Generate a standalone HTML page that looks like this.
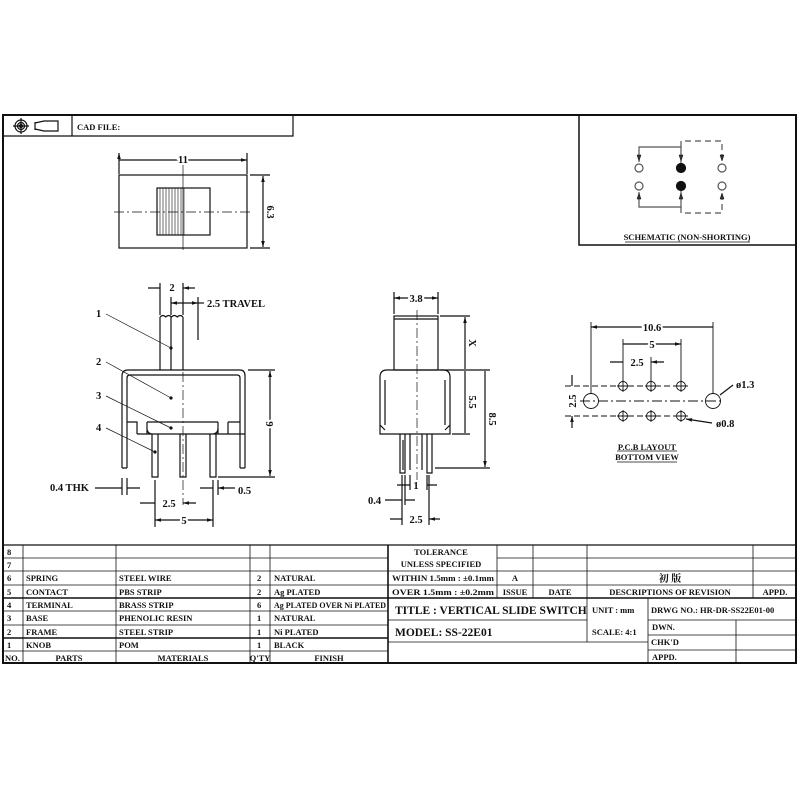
<!DOCTYPE html>
<html><head><meta charset="utf-8"><style>
html,body{margin:0;padding:0;background:#fff}
svg{display:block}
text{font-family:"Liberation Serif","Noto Serif CJK SC",serif;font-weight:bold;fill:#111}
.t{font-size:8.5px}
</style></head><body>
<svg width="800" height="800" viewBox="0 0 800 800" xmlns="http://www.w3.org/2000/svg">
<defs>
<marker id="a" viewBox="0 0 10 10" refX="10" refY="5" markerWidth="6" markerHeight="5" orient="auto-start-reverse"><path d="M0,2 L10,5 L0,8 z" fill="#111"/></marker>
</defs>
<g stroke="#111" fill="none" stroke-width="1.2">
<rect x="3" y="115" width="793" height="548" stroke-width="2"/>
<path d="M3,136 H293 V115 M72,115 V136"/>
<circle cx="21" cy="126" r="6"/><circle cx="21" cy="126" r="3.5"/><circle cx="21" cy="126" r="1.5"/>
<path d="M13,126 H29 M21,118 V134"/>
<path d="M35,122 V130 M35,123 L44,121 H58 V131 H44 L35,129"/>
<rect x="579" y="115" width="217" height="130" stroke-width="1.5"/>
<path d="M639,162 V147 H681 V163 M639,192 V207 H681 V191" stroke="#555"/>
<path d="M681,147 V141 H722 V162 M681,207 V213 H722 V192" stroke="#555" stroke-dasharray="6,4"/>
<path d="M637,155 L639,161 L641,155 Z M679,155 L681,161 L683,155 Z M720,155 L722,161 L724,155 Z M637,199 L639,193 L641,199 Z M679,199 L681,193 L683,199 Z M720,199 L722,193 L724,199 Z" fill="#333" stroke-width="0.5"/>
<circle cx="639" cy="168" r="4" stroke="#555"/><circle cx="722" cy="168" r="4" stroke="#555"/>
<circle cx="639" cy="186" r="4" stroke="#555"/><circle cx="722" cy="186" r="4" stroke="#555"/>
<circle cx="681" cy="168" r="4.5" fill="#111"/><circle cx="681" cy="186" r="4.5" fill="#111"/>
<path d="M625,242 H750" stroke-width="0.8"/>

<rect x="119" y="175" width="128" height="73"/>
<rect x="157" y="188" width="53" height="47"/>
<path d="M160,188 V235 M163,188 V235 M166,188 V235 M169,188 V235 M172,188 V235 M175,188 V235 M178,188 V235 M181,188 V235 M184,188 V235" stroke-width="0.6"/>
<path d="M183,165 V250" stroke-width="0.7"/>
<path d="M114,212 H252" stroke-width="0.7" stroke-dasharray="10,3,2,3"/>
<path d="M119,153 V174 M247,153 V174 M119,160 H247" marker-start="url(#a)" marker-end="url(#a)"/>
<path d="M250,175 H270 M250,248 H270"/>
<path d="M263,176 V247" marker-start="url(#a)" marker-end="url(#a)"/>

<path d="M160,370 V317 M183,370 V317 M171,370 V317"/>
<path d="M160,317 q3,-3 5.75,0 q2.87,-3 5.75,0 q2.87,-3 5.75,0 q2.87,-3 5.75,0" />
<path d="M122,468 V376 q0,-6 6,-6 H240 q5,0 5,6 V468 M127,468 V378 q0,-3 3,-3 H237 q3,0 3,3 V468 M122,468 H127 M240,468 H245"/>
<path d="M127,422 H137 V434 M137,434 H245 M147,422 V434 M147,422 H218 M228,422 H240 M218,422 V434 M228,422 V434 M147,428 q0,6 6,6 M218,428 q0,6 -6,6"/>
<path d="M152,434 V477 h6 V434 M180,434 V477 h6 V434 M210,434 V477 h6 V434"/>
<path d="M183,300 V505" stroke-width="0.7" stroke-dasharray="10,3,2,3"/>
<path d="M160,283 V315 M183,283 V315 M148,288 H160 M195,288 H183" marker-end="url(#a)"/>
<path d="M171,297 V315 M198,297 V340" />
<path d="M171,303 H198" marker-start="url(#a)" marker-end="url(#a)"/>
<path d="M198,303 H204"/>
<path d="M248,370 H275 M218,477 H275"/>
<path d="M270,371 V476" marker-start="url(#a)" marker-end="url(#a)"/>
<path d="M106,314 L171,348 M106,362 L171,398 M106,396 L171,428 M106,428 L155,452" stroke-width="0.7"/>
<circle cx="171" cy="348" r="1" fill="#111"/><circle cx="171" cy="398" r="1" fill="#111"/><circle cx="171" cy="428" r="1" fill="#111"/><circle cx="155" cy="452" r="1" fill="#111"/>
<path d="M122,478 V495 M127,478 V495 M155,480 V527 M213,480 V527 M218,480 V495"/>
<path d="M95,488 H122 M140,488 H127 M200,488 H213 M235,488 H218" marker-end="url(#a)"/>
<path d="M140,503 H155 M196,503 H183" marker-end="url(#a)"/>
<path d="M155,520 H213" marker-start="url(#a)" marker-end="url(#a)"/>

<rect x="394" y="316" width="44" height="54"/>
<path d="M394,319 H438"/>
<path d="M380,434 V377 q0,-7 7,-7 H443 q7,0 7,7 V434 Z M385,425 V380 M445,425 V380 M380,425 L385,430 M450,425 L445,430"/>
<path d="M400,434 V473 h5 V434 M427,434 V473 h5 V434 M410,434 V470 M422,434 V470 M403,440 V470"/>
<path d="M417,310 V480" stroke-width="0.7" stroke-dasharray="10,3,2,3"/>
<path d="M394,292 V314 M438,292 V314"/>
<path d="M394,298 H438" marker-start="url(#a)" marker-end="url(#a)"/>
<path d="M440,316 H470 M440,370 H490 M452,434 H470 M435,468 H490"/>
<path d="M465,317 V369 M465,371 V433 M485,371 V467" marker-start="url(#a)" marker-end="url(#a)"/>
<path d="M402,475 V525 M405,475 V505 M410,475 V490 M427,475 V490 M429,475 V525"/>
<path d="M397,485 H410 M437,485 H427 M385,500 H402 M415,500 H405 M390,519 H402 M440,519 H429" marker-end="url(#a)"/>

<g stroke-width="0.9">
<circle cx="623" cy="386" r="4.5"/><circle cx="651" cy="386" r="4.5"/><circle cx="681" cy="386" r="4.5"/>
<circle cx="623" cy="416" r="4.5"/><circle cx="651" cy="416" r="4.5"/><circle cx="681" cy="416" r="4.5"/>
<circle cx="591" cy="401" r="7.5"/><circle cx="713" cy="401" r="7.5"/>
<path d="M617,386 h12 M623,380 v12 M645,386 h12 M651,380 v12 M675,386 h12 M681,380 v12 M617,416 h12 M623,410 v12 M645,416 h12 M651,410 v12 M675,416 h12 M681,410 v12"/>
<path d="M565,386 H690 M565,416 H690" stroke-dasharray="6,3"/>
<path d="M580,401 H724" stroke-dasharray="10,3,2,3"/>
<path d="M591,322 V394 M713,322 V394 M623,339 V381 M681,339 V381 M651,357 V381"/>
</g>
<path d="M591,327 H713 M623,344 H681" marker-start="url(#a)" marker-end="url(#a)"/>
<path d="M610,362 H623 M664,362 H651" marker-end="url(#a)"/>
<path d="M572,375 V386 M572,428 V416" marker-end="url(#a)"/>
<path d="M733,385 L720,395 M712,423 L686,419" marker-end="url(#a)"/>
<path d="M617,451 H677 M617,462 H677" stroke-width="0.8"/>

<path d="M3,545 H796"/>
<path d="M3,558 H388 M3,571 H388 M3,585 H388 M3,611 H388 M3,625 H388 M3,651 H388" stroke-width="0.8"/>
<path d="M3,598 H388 M3,638 H388" stroke-width="1.6"/>
<path d="M23,545 V663 M116,545 V663 M250,545 V663 M270,545 V663 M388,545 V663" stroke-width="0.8"/>
<path d="M388,545 V663" stroke-width="1.6"/>
<path d="M497,558 H796 M388,571 H796 M388,585 H796" stroke-width="0.8"/>
<path d="M388,598 H796" stroke-width="1.6"/>
<path d="M497,545 V598 M533,545 V598 M587,545 V642 M753,545 V598" stroke-width="0.8"/>
<path d="M388,620 H587 M388,642 H648 M648,598 V663 M736,620 V663 M648,620 H796 M648,635 H796 M648,650 H796" stroke-width="0.8"/>
</g>

<text x="77" y="130" class="t">CAD FILE:</text>
<text x="687" y="240" class="t" text-anchor="middle">SCHEMATIC (NON-SHORTING)</text>
<text x="183" y="163" font-size="10.5" text-anchor="middle" stroke="#fff" stroke-width="4" style="paint-order:stroke">11</text>
<text transform="translate(267,212) rotate(90)" font-size="10.5" text-anchor="middle" stroke="#fff" stroke-width="4" style="paint-order:stroke">6.3</text>
<text x="172" y="291" font-size="10.5" text-anchor="middle">2</text>
<text x="207" y="307" font-size="10.5">2.5  TRAVEL</text>
<text x="96" y="317" font-size="10.5">1</text>
<text x="96" y="365" font-size="10.5">2</text>
<text x="96" y="399" font-size="10.5">3</text>
<text x="96" y="431" font-size="10.5">4</text>
<text transform="translate(266,424) rotate(90)" font-size="10.5" text-anchor="middle" stroke="#fff" stroke-width="4" style="paint-order:stroke">9</text>
<text x="50" y="491" font-size="10.5">0.4 THK</text>
<text x="238" y="494" font-size="10.5">0.5</text>
<text x="169" y="507" font-size="10.5" text-anchor="middle">2.5</text>
<text x="184" y="524" font-size="10.5" text-anchor="middle" stroke="#fff" stroke-width="4" style="paint-order:stroke">5</text>
<text x="416" y="302" font-size="10.5" text-anchor="middle" stroke="#fff" stroke-width="4" style="paint-order:stroke">3.8</text>
<text transform="translate(469,343) rotate(90)" font-size="10.5" text-anchor="middle" stroke="#fff" stroke-width="4" style="paint-order:stroke">X</text>
<text transform="translate(469,402) rotate(90)" font-size="10.5" text-anchor="middle" stroke="#fff" stroke-width="4" style="paint-order:stroke">5.5</text>
<text transform="translate(489,419) rotate(90)" font-size="10.5" text-anchor="middle" stroke="#fff" stroke-width="4" style="paint-order:stroke">8.5</text>
<text x="416" y="489" font-size="10.5" text-anchor="middle">1</text>
<text x="368" y="504" font-size="10.5">0.4</text>
<text x="416" y="523" font-size="10.5" text-anchor="middle">2.5</text>
<text x="652" y="331" font-size="10.5" text-anchor="middle" stroke="#fff" stroke-width="4" style="paint-order:stroke">10.6</text>
<text x="652" y="348" font-size="10.5" text-anchor="middle" stroke="#fff" stroke-width="4" style="paint-order:stroke">5</text>
<text x="637" y="366" font-size="10.5" text-anchor="middle">2.5</text>
<text transform="translate(576,401) rotate(-90)" font-size="10.5" text-anchor="middle" stroke="#fff" stroke-width="4" style="paint-order:stroke">2.5</text>
<text x="736" y="388" font-size="10.5">ø1.3</text>
<text x="716" y="427" font-size="10.5">ø0.8</text>
<text x="647" y="450" class="t" text-anchor="middle">P.C.B LAYOUT</text>
<text x="647" y="460" class="t" text-anchor="middle">BOTTOM VIEW</text>

<text x="7" y="555" class="t">8</text><text x="7" y="568" class="t">7</text>
<text x="7" y="581" class="t">6</text><text x="26" y="581" class="t">SPRING</text><text x="119" y="581" class="t">STEEL WIRE</text><text x="257" y="581" class="t">2</text><text x="274" y="581" class="t">NATURAL</text>
<text x="7" y="595" class="t">5</text><text x="26" y="595" class="t">CONTACT</text><text x="119" y="595" class="t">PBS STRIP</text><text x="257" y="595" class="t">2</text><text x="274" y="595" class="t">Ag PLATED</text>
<text x="7" y="608" class="t">4</text><text x="26" y="608" class="t">TERMINAL</text><text x="119" y="608" class="t">BRASS STRIP</text><text x="257" y="608" class="t">6</text><text x="274" y="608" class="t" textLength="112" lengthAdjust="spacingAndGlyphs">Ag PLATED OVER Ni PLATED</text>
<text x="7" y="621" class="t">3</text><text x="26" y="621" class="t">BASE</text><text x="119" y="621" class="t">PHENOLIC RESIN</text><text x="257" y="621" class="t">1</text><text x="274" y="621" class="t">NATURAL</text>
<text x="7" y="635" class="t">2</text><text x="26" y="635" class="t">FRAME</text><text x="119" y="635" class="t">STEEL STRIP</text><text x="257" y="635" class="t">1</text><text x="274" y="635" class="t">Ni PLATED</text>
<text x="7" y="648" class="t">1</text><text x="26" y="648" class="t">KNOB</text><text x="119" y="648" class="t">POM</text><text x="257" y="648" class="t">1</text><text x="274" y="648" class="t">BLACK</text>
<text x="5" y="661" class="t">NO.</text><text x="69" y="661" class="t" text-anchor="middle">PARTS</text><text x="183" y="661" class="t" text-anchor="middle">MATERIALS</text><text x="260" y="661" class="t" text-anchor="middle">Q'TY</text><text x="329" y="661" class="t" text-anchor="middle">FINISH</text>
<text x="441" y="555" class="t" text-anchor="middle">TOLERANCE</text>
<text x="441" y="567" class="t" text-anchor="middle">UNLESS  SPECIFIED</text>
<text x="392" y="581" class="t" textLength="102" lengthAdjust="spacingAndGlyphs">WITHIN 1.5mm : ±0.1mm</text>
<text x="392" y="595" class="t" textLength="102" lengthAdjust="spacingAndGlyphs">OVER 1.5mm : ±0.2mm</text>
<text x="515" y="581" class="t" text-anchor="middle">A</text>
<text x="515" y="595" class="t" text-anchor="middle">ISSUE</text>
<text x="560" y="595" class="t" text-anchor="middle">DATE</text>
<text x="670" y="582" font-size="10" text-anchor="middle" font-family="Noto Serif CJK SC">初  版</text>
<text x="670" y="595" class="t" text-anchor="middle">DESCRIPTIONS OF REVISION</text>
<text x="775" y="595" class="t" text-anchor="middle">APPD.</text>
<text x="395" y="614" font-size="11.5">TITLE :  VERTICAL SLIDE SWITCH</text>
<text x="395" y="636" font-size="11.5">MODEL:  SS-22E01</text>
<text x="592" y="613" class="t">UNIT :  mm</text>
<text x="592" y="635" class="t">SCALE:  4:1</text>
<text x="651" y="613" class="t">DRWG NO.:  HR-DR-SS22E01-00</text>
<text x="652" y="630" class="t">DWN.</text>
<text x="651" y="645" class="t">CHK'D</text>
<text x="652" y="660" class="t">APPD.</text>
</svg>
</body></html>
